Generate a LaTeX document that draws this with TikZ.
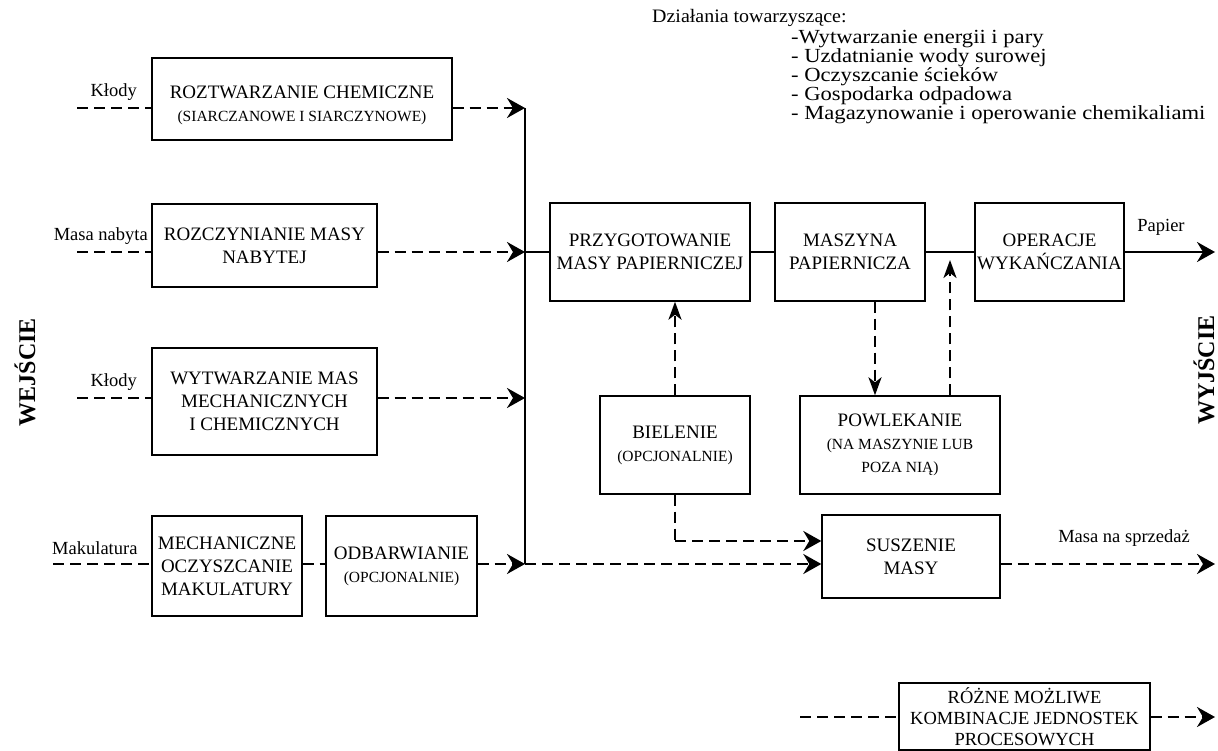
\documentclass[tikz,border=0pt]{standalone}
\usepackage{fontspec}
\setmainfont{Liberation Serif}
\newfontfamily\listfont[FakeStretch=1.13]{Liberation Serif}
\newfontfamily\headfont[FakeStretch=1.05]{Liberation Serif}
\usetikzlibrary{arrows.meta}
\begin{document}
\begin{tikzpicture}[x=1pt,y=-1pt,
  box/.style={draw, line width=1.4pt, align=center, inner sep=0pt, font=\fontsize{19}{23}\selectfont},
  lbl/.style={font=\fontsize{18.5}{20}\selectfont, inner sep=0pt},
  conn/.style={line width=2.4pt},
  dsh/.style={conn, dash pattern=on 11pt off 6pt},
  ha/.style={-{Stealth[length=18pt,width=20pt,inset=6pt]}},
  va/.style={-{Stealth[length=18pt,width=13pt,inset=5pt]}}]
\useasboundingbox (0,0) rectangle (1218,751);
% boxes
\node[box, minimum width=300pt, minimum height=82pt] (b1) at (302,99) {\rule{0pt}{25pt}ROZTWARZANIE CHEMICZNE\\{\fontsize{15.5}{17}\selectfont (SIARCZANOWE I SIARCZYNOWE)}};
\node[box, minimum width=225pt, minimum height=83pt] (b2) at (264.5,245.5) {ROZCZYNIANIE MASY\\NABYTEJ};
\node[box, minimum width=225pt, minimum height=107pt] (b3) at (264.5,401.5) {WYTWARZANIE MAS\\MECHANICZNYCH\\I CHEMICZNYCH};
\node[box, minimum width=150pt, minimum height=100pt] (b4) at (227,566) {MECHANICZNE\\OCZYSZCANIE\\MAKULATURY};
\node[box, minimum width=151pt, minimum height=100pt] (b5) at (401.5,566) {ODBARWIANIE\\{\fontsize{15.5}{17}\selectfont (OPCJONALNIE)}};
\node[box, minimum width=200pt, minimum height=98pt] (b6) at (650,252) {PRZYGOTOWANIE\\MASY PAPIERNICZEJ};
\node[box, minimum width=150pt, minimum height=98pt] (b7) at (850,252) {MASZYNA\\PAPIERNICZA};
\node[box, minimum width=149pt, minimum height=98pt] (b8) at (1049.5,252) {OPERACJE\\WYKAŃCZANIA};
\node[box, minimum width=150pt, minimum height=98pt] (b9) at (675,445) {BIELENIE\\{\fontsize{15.5}{17}\selectfont (OPCJONALNIE)}};
\node[box, minimum width=200pt, minimum height=98pt] (b10) at (900,445) {POWLEKANIE\\{\fontsize{15.5}{17}\selectfont (NA MASZYNIE LUB}\\{\fontsize{15.5}{17}\selectfont POZA NIĄ)}};
\node[box, minimum width=178pt, minimum height=83pt] (b11) at (911,556.5) {SUSZENIE\\MASY};
\node[box, minimum width=251pt, minimum height=67pt, font=\fontsize{18.5}{21}\selectfont] (b12) at (1024.5,716.5) {RÓŻNE MOŻLIWE\\KOMBINACJE JEDNOSTEK\\PROCESOWYCH};
% coordinates
\coordinate (v1) at (525,108);
\coordinate (v2) at (525,252);
\coordinate (v3) at (525,398);
\coordinate (v4) at (525,564);
\coordinate (s1) at (77,108);
\coordinate (s2) at (77,252);
\coordinate (s3) at (77,398);
\coordinate (s4) at (53,564);
\coordinate (s5) at (800,717);
\coordinate (e1) at (1215,252);
\coordinate (e2) at (1215,564);
\coordinate (e3) at (1215,717);
\coordinate (j) at (950,252);
\coordinate (bk) at (675,541);
% rows
\draw[dsh] (s1) -- (s1 -| b1.west);
\draw[dsh,ha] (v1 -| b1.east) -- (v1);
\draw[dsh] (s2) -- (s2 -| b2.west);
\draw[dsh,ha] (v2 -| b2.east) -- (v2);
\draw[dsh] (s3) -- (s3 -| b3.west);
\draw[dsh,ha] (v3 -| b3.east) -- (v3);
\draw[dsh] (s4) -- (s4 -| b4.west);
\draw[dsh] (v4 -| b4.east) -- (v4 -| b5.west);
\draw[dsh,ha] (v4 -| b5.east) -- (v4);
\draw[line width=2.8pt] (v1) -- (v4);
\draw[conn] (v2) -- (v2 -| b6.west);
\draw[conn] (b6.east) -- (b7.west);
\draw[conn] (b7.east) -- (b8.west);
\draw[conn,ha] (b8.east) -- (e1);
\draw[dsh,va] (b9.north) -- (b9.north |- b6.south);
\draw[dsh,va] ([xshift=25pt]b7.south) -- ([xshift=25pt]b7.south |- b10.north);
\draw[dsh,va,shorten >=8pt] (j |- b10.north) -- (j);
\draw[dsh] (b9.south) -- (bk);
\draw[dsh,ha] (bk) -- (bk -| b11.west);
\draw[dsh,ha] (v4) -- (v4 -| b11.west);
\draw[dsh,ha] (v4 -| b11.east) -- (e2);
\draw[dsh] (s5) -- (s5 -| b12.west);
\draw[dsh,ha] (s5 -| b12.east) -- (e3);
% labels
\node[lbl, anchor=east] (k1) at (137,92) {Kłody};
\node[lbl, anchor=east] (mn) at (148,236) {Masa nabyta};
\node[lbl, anchor=east] (k2) at (137,382) {Kłody};
\node[lbl, anchor=west] (mk) at (52,548) {Makulatura};
\node[lbl] (pp) at (1161,227) {Papier};
\node[lbl] (ms) at (1124,538) {Masa na sprzedaż};
\node[lbl, anchor=west, font=\headfont\fontsize{19}{20}\selectfont] (dz) at (652,18) {Działania towarzyszące:};
\node[lbl, anchor=north west, align=left, font=\listfont\fontsize{20}{18.9}\selectfont] (lst) at (791,30) {-Wytwarzanie energii i pary\\- Uzdatnianie wody surowej\\- Oczyszcanie ścieków\\- Gospodarka odpadowa\\- Magazynowanie i operowanie chemikaliami};
\node[rotate=90, inner sep=0pt, font=\bfseries\fontsize{24}{26}\selectfont] (we) at (25,372) {WEJŚCIE};
\node[rotate=90, inner sep=0pt, font=\bfseries\fontsize{24}{26}\selectfont] (wy) at (1204,370) {WYJŚCIE};
\end{tikzpicture}
\end{document}
